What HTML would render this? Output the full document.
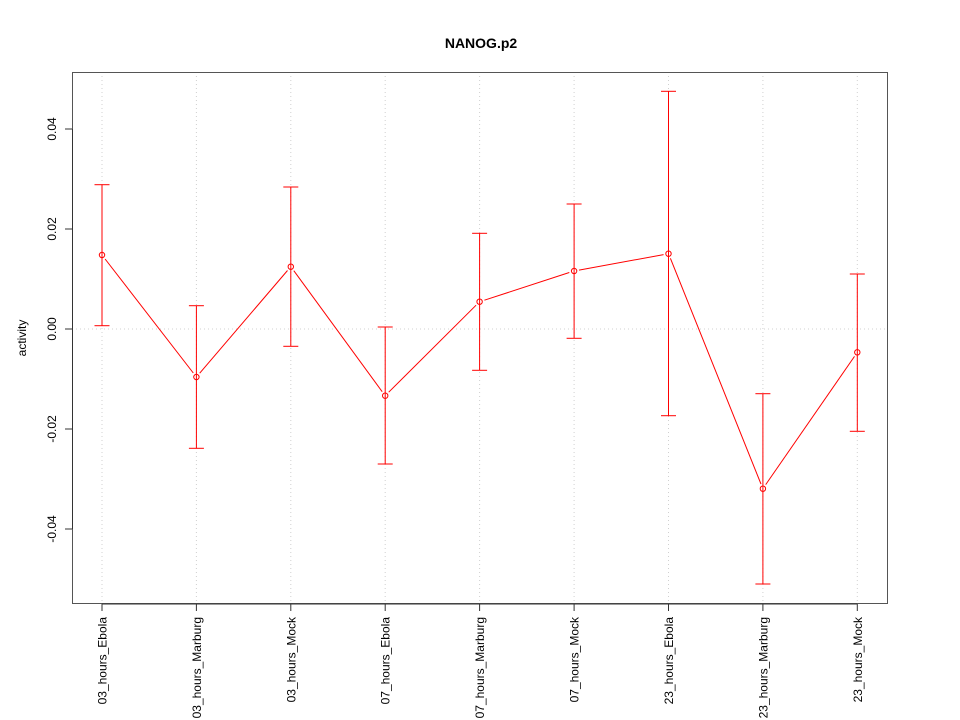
<!DOCTYPE html>
<html>
<head>
<meta charset="utf-8">
<style>
html,body{margin:0;padding:0;background:#fff;}
svg{display:block;}
text{font-family:"Liberation Sans",Arial,sans-serif;fill:#000;}
</style>
</head>
<body>
<svg width="960" height="720" viewBox="0 0 960 720" xmlns="http://www.w3.org/2000/svg">
<rect x="0" y="0" width="960" height="720" fill="#fff"/>
<!-- grid -->
<g stroke="#d0d0d0" stroke-width="1" stroke-dasharray="1,3" fill="none">
<line x1="102" y1="72" x2="102" y2="604"/>
<line x1="196.4" y1="72" x2="196.4" y2="604"/>
<line x1="290.8" y1="72" x2="290.8" y2="604"/>
<line x1="385.2" y1="72" x2="385.2" y2="604"/>
<line x1="479.6" y1="72" x2="479.6" y2="604"/>
<line x1="574.1" y1="72" x2="574.1" y2="604"/>
<line x1="668.5" y1="72" x2="668.5" y2="604"/>
<line x1="762.9" y1="72" x2="762.9" y2="604"/>
<line x1="857.3" y1="72" x2="857.3" y2="604"/>
<line x1="72" y1="329" x2="888" y2="329"/>
</g>
<!-- box -->
<rect x="72.5" y="72.5" width="815" height="531" fill="none" stroke="#555" stroke-width="1"/>
<!-- y axis -->
<g stroke="#333" stroke-width="1">
<line x1="72.5" y1="129" x2="72.5" y2="529"/>
<line x1="65" y1="129" x2="72" y2="129"/>
<line x1="65" y1="229" x2="72" y2="229"/>
<line x1="65" y1="329" x2="72" y2="329"/>
<line x1="65" y1="429" x2="72" y2="429"/>
<line x1="65" y1="529" x2="72" y2="529"/>
</g>
<g font-size="12" text-anchor="middle">
<text transform="translate(56,129) rotate(-90)">0.04</text>
<text transform="translate(56,229) rotate(-90)">0.02</text>
<text transform="translate(56,329) rotate(-90)">0.00</text>
<text transform="translate(56,429) rotate(-90)">-0.02</text>
<text transform="translate(56,529) rotate(-90)">-0.04</text>
<text transform="translate(26,338) rotate(-90)">activity</text>
</g>
<!-- x axis -->
<g stroke="#333" stroke-width="1">
<line x1="102" y1="604" x2="857.3" y2="604"/>
<line x1="102" y1="604" x2="102" y2="611"/>
<line x1="196.4" y1="604" x2="196.4" y2="611"/>
<line x1="290.8" y1="604" x2="290.8" y2="611"/>
<line x1="385.2" y1="604" x2="385.2" y2="611"/>
<line x1="479.6" y1="604" x2="479.6" y2="611"/>
<line x1="574.1" y1="604" x2="574.1" y2="611"/>
<line x1="668.5" y1="604" x2="668.5" y2="611"/>
<line x1="762.9" y1="604" x2="762.9" y2="611"/>
<line x1="857.3" y1="604" x2="857.3" y2="611"/>
</g>
<g font-size="12" text-anchor="end">
<text transform="translate(106.5,617) rotate(-90)">03_hours_Ebola</text>
<text transform="translate(200.9,617) rotate(-90)">03_hours_Marburg</text>
<text transform="translate(295.3,617) rotate(-90)">03_hours_Mock</text>
<text transform="translate(389.7,617) rotate(-90)">07_hours_Ebola</text>
<text transform="translate(484.1,617) rotate(-90)">07_hours_Marburg</text>
<text transform="translate(578.6,617) rotate(-90)">07_hours_Mock</text>
<text transform="translate(673,617) rotate(-90)">23_hours_Ebola</text>
<text transform="translate(767.4,617) rotate(-90)">23_hours_Marburg</text>
<text transform="translate(861.8,617) rotate(-90)">23_hours_Mock</text>
</g>
<!-- title -->
<text x="481" y="48" font-size="14" font-weight="bold" text-anchor="middle">NANOG.p2</text>
<!-- error bars -->
<g stroke="#ff0000" stroke-width="1" fill="none">
<line x1="102" y1="184.7" x2="102" y2="325.7"/><line x1="94.5" y1="184.7" x2="109.5" y2="184.7"/><line x1="94.5" y1="325.7" x2="109.5" y2="325.7"/>
<line x1="196.4" y1="305.7" x2="196.4" y2="448.3"/><line x1="188.9" y1="305.7" x2="203.9" y2="305.7"/><line x1="188.9" y1="448.3" x2="203.9" y2="448.3"/>
<line x1="290.8" y1="187" x2="290.8" y2="346.3"/><line x1="283.3" y1="187" x2="298.3" y2="187"/><line x1="283.3" y1="346.3" x2="298.3" y2="346.3"/>
<line x1="385.2" y1="327" x2="385.2" y2="464"/><line x1="377.7" y1="327" x2="392.7" y2="327"/><line x1="377.7" y1="464" x2="392.7" y2="464"/>
<line x1="479.6" y1="233.3" x2="479.6" y2="370.3"/><line x1="472.1" y1="233.3" x2="487.1" y2="233.3"/><line x1="472.1" y1="370.3" x2="487.1" y2="370.3"/>
<line x1="574.1" y1="204" x2="574.1" y2="338.3"/><line x1="566.6" y1="204" x2="581.6" y2="204"/><line x1="566.6" y1="338.3" x2="581.6" y2="338.3"/>
<line x1="668.5" y1="91.3" x2="668.5" y2="415.7"/><line x1="661" y1="91.3" x2="676" y2="91.3"/><line x1="661" y1="415.7" x2="676" y2="415.7"/>
<line x1="762.9" y1="393.7" x2="762.9" y2="584"/><line x1="755.4" y1="393.7" x2="770.4" y2="393.7"/><line x1="755.4" y1="584" x2="770.4" y2="584"/>
<line x1="857.3" y1="274" x2="857.3" y2="431.3"/><line x1="849.8" y1="274" x2="864.8" y2="274"/><line x1="849.8" y1="431.3" x2="864.8" y2="431.3"/>
</g>
<!-- connecting lines -->
<g stroke="#ff0000" stroke-width="1" fill="none">
<line x1="105.1" y1="259.0" x2="193.3" y2="373.0"/>
<line x1="199.7" y1="373.2" x2="287.5" y2="270.5"/>
<line x1="293.8" y1="270.7" x2="382.2" y2="391.7"/>
<line x1="388.7" y1="392.2" x2="476.1" y2="305.2"/>
<line x1="484.4" y1="300.2" x2="569.3" y2="272.5"/>
<line x1="579.0" y1="270.1" x2="663.6" y2="254.6"/>
<line x1="670.4" y1="258.3" x2="761.0" y2="484.1"/>
<line x1="765.7" y1="484.6" x2="854.5" y2="356.4"/>
</g>
<!-- points -->
<g stroke="#ff0000" stroke-width="1" fill="none">
<circle cx="102" cy="255" r="2.7"/>
<circle cx="196.4" cy="377" r="2.7"/>
<circle cx="290.8" cy="266.7" r="2.7"/>
<circle cx="385.2" cy="395.7" r="2.7"/>
<circle cx="479.6" cy="301.7" r="2.7"/>
<circle cx="574.1" cy="271" r="2.7"/>
<circle cx="668.5" cy="253.7" r="2.7"/>
<circle cx="762.9" cy="488.7" r="2.7"/>
<circle cx="857.3" cy="352.3" r="2.7"/>
</g>
</svg>
</body>
</html>
